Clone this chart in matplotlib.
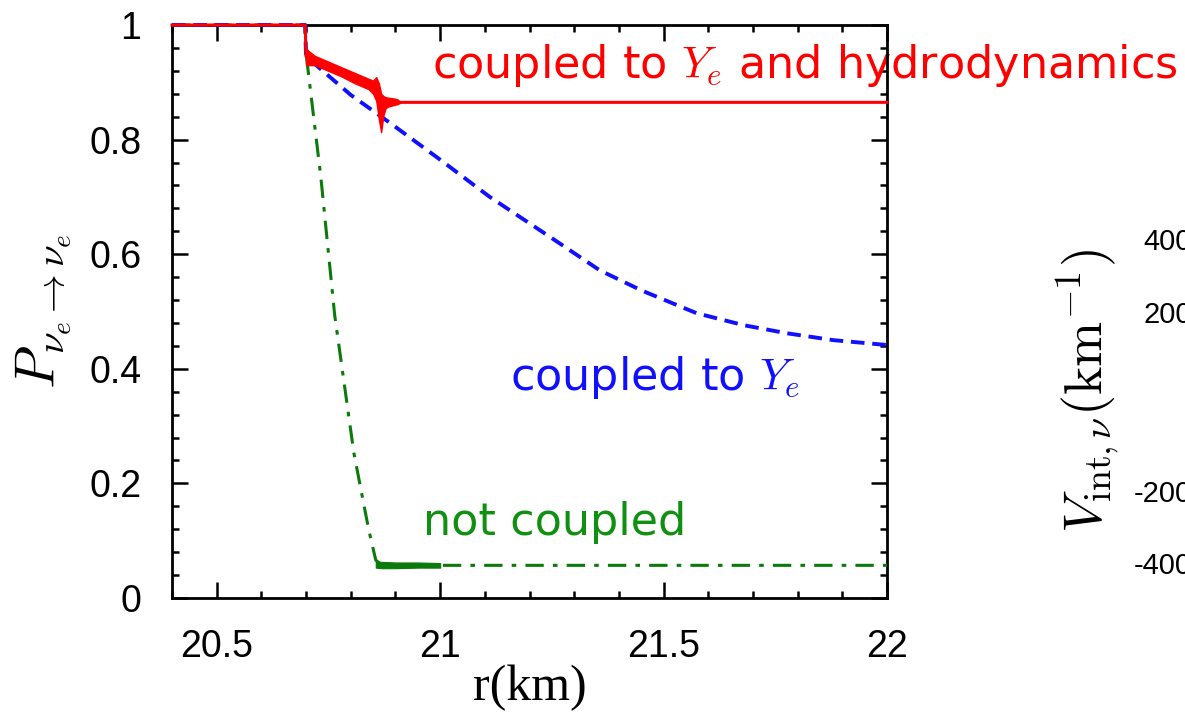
import matplotlib
matplotlib.use("Agg")
import matplotlib.pyplot as plt
from matplotlib.ticker import MultipleLocator

plt.rcParams['mathtext.fontset'] = 'cm'

# ---------------- data ----------------
# red: coupled to Ye and hydrodynamics
red_x = [20.40, 20.698, 20.700, 20.72, 20.75, 20.78, 20.81, 20.84, 20.855, 20.865, 20.875, 20.89, 20.91, 22.00]
red_y = [1.000, 1.000, 0.945, 0.938, 0.928, 0.918, 0.905, 0.895, 0.890, 0.86, 0.86, 0.866, 0.865, 0.865]
# noisy band of the red curve (upper / lower envelope)
band_x = [20.700, 20.705, 20.72, 20.75, 20.78, 20.81, 20.84, 20.85, 20.857, 20.863, 20.868, 20.873, 20.878, 20.885, 20.895, 20.905, 20.91]
band_hi = [0.960, 0.955, 0.946, 0.936, 0.926, 0.916, 0.906, 0.903, 0.909, 0.898, 0.880, 0.876, 0.874, 0.873, 0.872, 0.870, 0.866]
band_lo = [0.930, 0.930, 0.930, 0.920, 0.910, 0.898, 0.888, 0.880, 0.868, 0.835, 0.813, 0.842, 0.855, 0.858, 0.860, 0.862, 0.864]

# blue: coupled to Ye
blue_x = [20.40, 20.698, 20.700, 20.80, 20.888, 21.00, 21.111, 21.25, 21.357, 21.45, 21.574, 21.68, 21.776, 21.88, 22.00]
blue_y = [1.000, 1.000, 0.945, 0.878, 0.829, 0.765, 0.700, 0.628, 0.572, 0.537, 0.497, 0.476, 0.462, 0.450, 0.4415]

# green: not coupled
green_x = [20.40, 20.698, 20.700, 20.733, 20.764, 20.807, 20.840, 20.856, 20.870, 22.00]
green_y = [1.000, 1.000, 0.950, 0.735, 0.494, 0.253, 0.120, 0.066, 0.057, 0.057]
# noisy band of the green curve
gband_x = [20.856, 20.87, 20.90, 20.95, 21.00]
gband_hi = [0.064, 0.063, 0.062, 0.062, 0.061]
gband_lo = [0.053, 0.052, 0.052, 0.053, 0.053]

x_ticks = [20.5, 21, 21.5, 22]
x_ticklabels = ["20.5", "21", "21.5", "22"]
y_ticks = [0, 0.2, 0.4, 0.6, 0.8, 1]
y_ticklabels = ["0", "0.2", "0.4", "0.6", "0.8", "1"]

right_ticklabels = ["400", "200", "-200", "-400"]
right_label_y = [242, 315, 494, 566]   # pixel rows of the cut-off neighbour panel

# ---------------- figure ----------------
W, H = 1185, 719
fig = plt.figure(figsize=(W / 100, H / 100), dpi=100)
ax = fig.add_axes([172 / W, (H - 598) / H, 715 / W, 573 / H])

ax.plot(green_x, green_y, color="#0a7a0a", lw=2.2, dashes=(6, 3, 1.5, 3), clip_on=False, zorder=4)
ax.fill_between(gband_x, gband_lo, gband_hi, color="#0a7a0a", lw=0.8)
ax.plot(blue_x, blue_y, color="#1010ff", lw=2.8, dashes=(3.5, 2), clip_on=False, zorder=5)
ax.plot(red_x, red_y, color="#ff0000", lw=2.2, clip_on=False, zorder=6)
ax.fill_between(band_x, band_lo, band_hi, color="#ff0000", lw=1.0, zorder=6)

ax.set_xlim(20.4, 22)
ax.set_ylim(0, 1)
ax.set_xticks(x_ticks)
ax.set_xticklabels(x_ticklabels)
ax.set_yticks(y_ticks)
ax.set_yticklabels(y_ticklabels)
ax.xaxis.set_minor_locator(MultipleLocator(0.1))
ax.yaxis.set_minor_locator(MultipleLocator(0.04))
ax.tick_params(which="both", direction="in", top=True, right=True, width=1.8)
ax.tick_params(which="major", length=11.5, labelsize=27)
ax.tick_params(axis="y", which="major", pad=22)
ax.tick_params(axis="x", which="major", pad=22)
ax.tick_params(which="minor", length=5)
for lab in ax.get_xticklabels() + ax.get_yticklabels():
    lab.set_fontfamily("Liberation Sans")
for s in ax.spines.values():
    s.set_linewidth(2.0)
    s.set_zorder(3)

ax.set_xlabel("r(km)", fontfamily="Liberation Serif", fontsize=36, labelpad=0)
ax.set_ylabel(r"$P_{\nu_e\to\nu_e}$", fontsize=40, labelpad=12)

ax.text(20.982, 0.9075, r"coupled to $Y_e$ and hydrodynamics", color="#ff0000",
        fontsize=32, fontfamily="DejaVu Sans")
ax.text(21.156, 0.363, r"coupled to $Y_e$", color="#1010ff",
        fontsize=32, fontfamily="DejaVu Sans")
ax.text(20.962, 0.11, "not coupled", color="#109010",
        fontsize=32, fontfamily="DejaVu Sans")

# cut-off neighbour panel on the right
fig.text(1088 / W, 1 - 391 / H, r"$V_{\rm int,\nu}(\rm km^{-1})$", fontsize=39,
         rotation=90, ha="center", va="center")
for lab, yp in zip(right_ticklabels, right_label_y):
    fig.text(1192 / W, 1 - yp / H, lab, ha="right", va="center",
             fontsize=21, fontfamily="Liberation Sans")

fig.savefig("out.png", dpi=100)
